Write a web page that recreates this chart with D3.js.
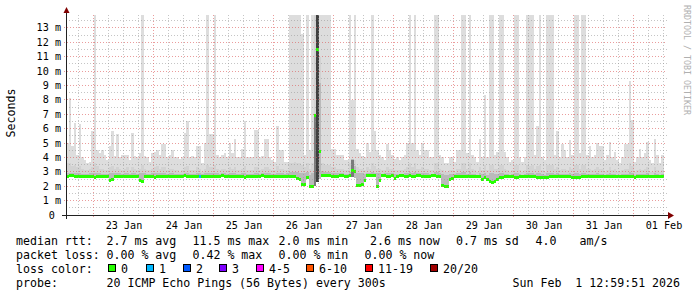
<!DOCTYPE html>
<html>
<head>
<meta charset="utf-8">
<script src="https://cdn.jsdelivr.net/npm/d3@7"></script>
<style>
  body { margin: 0; background: #fff; }
  text { font-family: "DejaVu Sans Mono", monospace; white-space: pre; }
</style>
</head>
<body>
<svg id="chart" width="697" height="297"></svg>
<script>
// hourly values (ms), first hour starts at Jan 22 12:59:51 UTC
const maxRtt = [
  5.0,8.1,4.8,6.4,4.2,6.3,4.0,3.8,3.6,3.7,
  5.8,14,4.5,4.3,4.5,4.2,3.8,4.8,5.8,4.1,
  5.6,4.0,4.2,4.2,4.2,3.8,5.7,4.1,4.0,4.3,
  14,4.1,4.0,3.7,4.3,4.4,4.5,4.2,4.9,4.9,
  4.0,4.2,4.5,4.0,4.0,3.9,4.0,5.7,6.5,4.0,
  4.1,4.0,4.8,4.8,3.6,5.0,14,5.6,5.6,14,
  4.2,4.0,4.2,4.3,4.0,5.0,4.3,5.3,4.0,4.0,
  4.6,6.5,4.0,4.0,4.0,5.9,5.9,4.0,4.1,5.3,
  5.3,4.0,3.8,3.7,6.2,4.5,4.5,3.7,3.7,14,
  14,14,14,14,12.6,4.2,14,4.5,14,14,
  14,14,14,14,14,14,4.6,4.6,4.2,4.2,
  4.2,3.8,3.8,14,8.0,14,4.6,4.3,4.1,4.0,
  5.0,4.4,14,5.8,4.5,4.2,4.0,3.8,4.9,4.5,
  4.2,3.9,4.0,3.8,4.0,4.2,5.0,14,5.0,14,
  4.5,4.2,5.0,4.5,4.5,4.0,4.0,14,14,4.2,
  4.0,3.6,3.6,4.0,4.0,3.7,4.5,4.5,14,14,
  4.3,14,4.2,4.0,3.7,5.3,4.0,8.3,4.0,14,
  14,4.2,4.4,14,14,4.4,4.0,3.7,3.8,14,
  14,4.0,3.7,4.0,14,14,14,4.2,6.2,14,
  4.0,3.8,14,14,14,4.2,5.8,4.0,4.9,4.5,
  4.0,5.2,4.2,14,14,4.3,14,14,4.2,4.8,
  4.0,4.2,5.0,4.8,4.8,3.8,4.2,5.1,4.0,4.4,
  3.8,3.6,4.0,4.9,4.9,9.3,6.6,3.7,4.0,4.6,
  4.0,4.3,5.1,3.8,3.6,5.3,4.2,3.6,4.2
];
const upperRtt = [
  3.6,3.6,3.4,3.5,3.3,3.4,3.2,3.1,3.1,3.2,
  3.3,3.6,3.4,3.2,3.2,3.1,3.1,3.3,3.4,3.2,
  3.3,3.2,3.1,3.2,3.3,3.1,3.3,3.2,3.1,3.2,
  3.5,3.2,3.1,3.1,3.2,3.3,3.4,3.2,3.3,3.3,
  3.1,3.2,3.2,3.1,3.1,3.0,3.1,3.3,3.4,3.1,
  3.1,3.1,3.3,3.2,3.0,3.2,3.5,3.3,3.3,3.5,
  3.2,3.1,3.2,3.2,3.1,3.3,3.2,3.3,3.1,3.1,
  3.2,3.4,3.1,3.1,3.1,3.3,3.3,3.1,3.2,3.3,
  3.3,3.2,3.1,3.1,3.4,3.2,3.2,3.1,3.1,3.6,
  3.6,3.7,3.6,3.6,3.5,3.3,3.6,3.2,3.6,14,
  14,11,3.6,3.5,3.5,3.5,3.3,3.3,3.2,3.2,
  3.2,3.1,3.1,3.6,3.9,3.8,3.3,3.2,3.2,3.1,
  3.3,3.2,3.6,3.4,3.2,3.2,3.1,3.1,3.3,3.2,
  3.2,3.1,3.1,3.1,3.1,3.2,3.3,3.6,3.3,3.6,
  3.2,3.2,3.3,3.2,3.2,3.1,3.1,3.6,3.6,3.2,
  3.1,3.0,3.0,3.1,3.1,3.0,3.2,3.2,3.6,3.6,
  3.2,3.6,3.2,3.1,3.0,3.3,3.1,3.5,3.1,3.5,
  3.5,3.2,3.2,3.5,3.5,3.2,3.1,3.0,3.1,3.5,
  3.5,3.1,3.0,3.1,3.5,3.4,3.5,3.2,3.4,3.5,
  3.1,3.0,3.5,3.5,3.5,3.2,3.3,3.1,3.2,3.2,
  3.1,3.3,3.2,3.5,3.5,3.2,3.5,3.5,3.2,3.2,
  3.1,3.2,3.3,3.2,3.2,3.0,3.1,3.3,3.1,3.2,
  3.0,3.0,3.1,3.2,3.2,3.6,3.4,3.0,3.1,3.2,
  3.1,3.2,3.3,3.0,3.0,3.3,3.1,3.0,3.1
];
const coreRtt = [
  2.95,2.95,2.9,2.9,2.9,2.9,2.85,2.85,2.85,2.9,
  2.9,2.95,2.9,2.9,2.85,2.85,2.85,2.9,2.9,2.9,
  2.9,2.9,2.85,2.9,2.9,2.85,2.9,2.9,2.85,2.9,
  2.95,2.9,2.85,2.85,2.9,2.9,2.9,2.9,2.9,2.9,
  2.85,2.9,2.9,2.85,2.85,2.85,2.85,2.9,2.95,2.85,
  2.85,2.85,2.9,2.9,2.85,2.9,2.95,2.9,2.9,2.95,
  2.9,2.85,2.9,2.9,2.85,2.9,2.9,2.9,2.85,2.85,
  2.9,2.95,2.85,2.85,2.85,2.9,2.9,2.85,2.9,2.9,
  2.9,2.9,2.85,2.85,2.95,2.9,2.9,2.85,2.9,3.0,
  3.0,3.0,3.0,2.9,2.9,2.9,3.0,2.8,2.9,7.0,
  12,9.2,3.05,3.0,3.0,3.0,2.9,2.9,2.9,2.9,
  2.9,2.85,2.85,3.0,3.9,3.4,2.95,2.9,2.9,2.85,
  2.95,2.9,3.0,2.95,2.9,2.9,2.85,2.9,2.95,2.9,
  2.9,2.85,2.85,2.85,2.85,2.9,2.9,3.0,2.9,3.0,
  2.9,2.9,2.95,2.9,2.9,2.85,2.85,3.0,3.0,2.9,
  2.85,2.8,2.8,2.85,2.85,2.85,2.9,2.9,3.0,3.0,
  2.85,3.0,2.85,2.85,2.8,2.9,2.85,2.95,2.8,2.95,
  2.95,2.85,2.85,2.95,2.95,2.85,2.85,2.8,2.85,2.95,
  2.95,2.85,2.8,2.85,2.95,2.9,2.95,2.85,2.9,2.95,
  2.85,2.8,2.95,2.95,2.95,2.85,2.9,2.85,2.85,2.85,
  2.85,2.9,2.85,2.95,2.95,2.85,2.95,2.95,2.85,2.85,
  2.85,2.85,2.9,2.85,2.85,2.8,2.85,2.9,2.85,2.85,
  2.8,2.8,2.85,2.85,2.85,3.0,2.9,2.8,2.85,2.85,
  2.85,2.85,2.9,2.8,2.8,2.9,2.85,2.8,2.85
];
const minRtt = [
  2.62,2.64,2.64,2.62,2.62,2.62,2.62,2.6,2.62,2.62,
  2.6,2.55,2.62,2.62,2.62,2.62,2.58,2.35,2.45,2.58,
  2.62,2.62,2.62,2.62,2.62,2.6,2.6,2.62,2.58,2.35,
  2.3,2.58,2.62,2.62,2.6,2.55,2.62,2.62,2.62,2.62,
  2.62,2.62,2.6,2.62,2.62,2.58,2.62,2.64,2.62,2.62,
  2.62,2.62,2.6,2.62,2.62,2.62,2.58,2.62,2.62,2.62,
  2.62,2.62,2.64,2.62,2.62,2.62,2.62,2.6,2.62,2.62,
  2.58,2.52,2.58,2.62,2.62,2.62,2.62,2.62,2.64,2.62,
  2.62,2.62,2.62,2.6,2.62,2.62,2.62,2.62,2.62,2.6,
  2.62,2.58,2.48,2.38,2.03,2.03,2.52,1.93,1.93,1.98,
  2.3,2.5,2.67,2.67,2.67,2.64,2.62,2.62,2.62,2.64,
  2.64,2.62,2.62,2.64,2.62,2.6,2.0,2.0,2.02,2.32,
  2.67,2.67,2.67,2.67,1.93,2.32,2.67,2.67,2.62,2.62,
  2.67,2.47,2.62,2.64,2.64,2.62,2.62,2.64,2.62,2.62,
  2.64,2.64,2.62,2.62,2.57,2.62,2.64,2.64,2.62,2.62,
  1.97,1.93,1.93,2.42,2.47,2.57,2.62,2.6,2.6,2.62,
  2.62,2.6,2.6,2.6,2.57,2.57,2.37,2.52,2.37,2.22,
  2.17,2.27,2.37,2.52,2.54,2.57,2.57,2.57,2.57,2.5,
  2.52,2.57,2.57,2.57,2.57,2.57,2.57,2.57,2.52,2.52,
  2.52,2.54,2.52,2.57,2.57,2.57,2.57,2.57,2.57,2.57,
  2.57,2.57,2.54,2.52,2.52,2.54,2.62,2.62,2.62,2.57,
  2.57,2.57,2.57,2.57,2.57,2.57,2.57,2.57,2.57,2.6,
  2.6,2.57,2.57,2.57,2.57,2.57,2.57,2.54,2.57,2.57,
  2.57,2.57,2.57,2.57,2.57,2.57,2.57,2.57,2.57
];
const medianRtt = [
  2.7,2.72,2.72,2.7,2.7,2.7,2.7,2.68,2.7,2.7,
  2.68,2.6,2.7,2.7,2.7,2.7,2.65,2.4,2.5,2.65,
  2.7,2.7,2.7,2.7,2.7,2.68,2.68,2.7,2.65,2.4,
  2.35,2.65,2.7,2.7,2.68,2.62,2.7,2.7,2.7,2.7,
  2.7,2.7,2.68,2.7,2.7,2.65,2.7,2.72,2.7,2.7,
  2.7,2.7,2.68,2.7,2.7,2.7,2.65,2.7,2.7,2.7,
  2.7,2.7,2.72,2.7,2.7,2.7,2.7,2.68,2.7,2.7,
  2.65,2.6,2.65,2.7,2.7,2.7,2.7,2.7,2.72,2.7,
  2.7,2.7,2.7,2.68,2.7,2.7,2.7,2.7,2.7,2.68,
  2.7,2.65,2.55,2.45,2.1,2.1,2.6,2.0,2.0,6.9,
  11.5,4.4,2.75,2.75,2.75,2.72,2.7,2.7,2.7,2.72,
  2.72,2.7,2.7,2.72,3.1,3.05,2.08,2.08,2.1,2.4,
  2.75,2.75,2.75,2.75,2.0,2.4,2.75,2.75,2.7,2.7,
  2.75,2.55,2.7,2.72,2.72,2.7,2.7,2.72,2.7,2.7,
  2.72,2.72,2.7,2.7,2.65,2.7,2.72,2.72,2.7,2.7,
  2.02,2.0,2.0,2.5,2.55,2.65,2.7,2.68,2.68,2.7,
  2.7,2.68,2.68,2.68,2.65,2.65,2.45,2.6,2.45,2.3,
  2.25,2.35,2.45,2.6,2.62,2.65,2.65,2.65,2.65,2.58,
  2.6,2.65,2.65,2.65,2.65,2.65,2.65,2.65,2.6,2.6,
  2.6,2.62,2.6,2.65,2.65,2.65,2.65,2.65,2.65,2.65,
  2.65,2.65,2.62,2.6,2.6,2.62,2.7,2.7,2.7,2.65,
  2.65,2.65,2.65,2.65,2.65,2.65,2.65,2.65,2.65,2.68,
  2.68,2.65,2.65,2.65,2.65,2.65,2.65,2.62,2.65,2.65,
  2.65,2.65,2.65,2.65,2.65,2.65,2.65,2.65,2.65
];
// hours where the innermost smoke pairs spread out (dark core)
const innerHours = [99, 100, 114];
const innerTop = [7.0, 14, 3.8];
// hours with packet loss (index into lossColors)
const lossHours = [53];
const lossLevel = [1];

const yTicks = [0,1,2,3,4,5,6,7,8,9,10,11,12,13];
const yLabels = ["0 ","1 m","2 m","3 m","4 m","5 m","6 m","7 m","8 m","9 m","10 m","11 m","12 m","13 m"];
const dayLabels = ["23 Jan","24 Jan","25 Jan","26 Jan","27 Jan","28 Jan","29 Jan","30 Jan","31 Jan","01 Feb"];
const lossNames = ["0","1","2","3","4-5","6-10","11-19","20/20"];
const lossColors = ["#26ff00","#00b8ff","#0059ff","#7e00ff","#ff00ff","#ff5500","#ff0000","#a00000"];
const lossBoxX = [108, 146, 183, 219, 256, 306, 365, 430];

const legendRows = [
  [[16,"median rtt:"],[106.5,"2.7 ms avg"],[192.5,"11.5 ms max"],[278.5,"2.0 ms min"],[370,"2.6 ms now"],[456,"0.7 ms sd"],[535.5,"4.0"],[579.5,"am/s"]],
  [[16,"packet loss:"],[106.5,"0.00 % avg"],[192.5,"0.42 % max"],[278.5,"0.00 % min"],[364.5,"0.00 % now"]],
  [[16,"loss color:"]],
  [[16,"probe:"],[106.5,"20 ICMP Echo Pings (56 Bytes) every 300s"],[512.5,"Sun Feb  1 12:59:51 2026"]]
];

const svg = d3.select("#chart");
const end = new Date(Date.UTC(2026, 1, 1, 12, 59, 51));
const start = new Date(+end - 10 * 864e5);
const hour = i => new Date(+start + i * 36e5);

const x = d3.scaleUtc().domain([start, end]).range([66, 666]);
const y = d3.scaleLinear().domain([0, 13.89]).range([215, 15]);

svg.append("rect").attr("width", 697).attr("height", 297).attr("fill", "#fff");

svg.append("clipPath").attr("id", "clip")
  .append("rect").attr("x", 66).attr("y", 15).attr("width", 600).attr("height", 200);

const plot = svg.append("g").attr("clip-path", "url(#clip)");

function smoke(top, color) {
  plot.append("g").attr("shape-rendering", "crispEdges")
    .selectAll("rect").data(top).join("rect")
    .attr("x", (d, i) => x(hour(i)))
    .attr("width", (d, i) => x(hour(i + 1)) - x(hour(i)))
    .attr("y", d => y(d))
    .attr("height", (d, i) => Math.max(0, y(minRtt[i]) - y(d)))
    .attr("fill", color);
}
smoke(maxRtt, "#dddddd");
smoke(upperRtt, "#d2d2d2");
smoke(coreRtt, "#bababa");

plot.append("g").attr("shape-rendering", "crispEdges")
  .selectAll("rect").data(innerHours).join("rect")
  .attr("x", h => x(hour(h)))
  .attr("width", h => x(hour(h + 1)) - x(hour(h)))
  .attr("y", (h, k) => y(innerTop[k]))
  .attr("height", (h, k) => y(minRtt[h]) - y(innerTop[k]))
  .attr("fill", (h, k) => k === 1 ? "#404040" : "#7a7a7a");

// grid
const grid = svg.append("g").attr("shape-rendering", "crispEdges");
const majorT = d3.utcDay.range(start, end);
const minorT = d3.utcHour.every(6).range(start, end).filter(d => d.getUTCHours() !== 0);
const minorY = y.ticks(28).filter(v => v > 0 && v % 1 !== 0);
const majorY = yTicks.filter(v => v > 0);
const minorCol = "rgba(150,150,150,0.55)", majorCol = "rgba(220,90,90,0.6)";

grid.selectAll(".vmin").data(minorT).join("line")
  .attr("x1", d => Math.floor(x(d)) + 0.5).attr("x2", d => Math.floor(x(d)) + 0.5)
  .attr("y1", 15).attr("y2", 215).attr("stroke", minorCol).attr("stroke-dasharray", "1,2");
grid.selectAll(".hmin").data(minorY).join("line")
  .attr("x1", 66).attr("x2", 667)
  .attr("y1", d => Math.floor(y(d)) + 0.5).attr("y2", d => Math.floor(y(d)) + 0.5)
  .attr("stroke", minorCol).attr("stroke-dasharray", "1,2");
grid.selectAll(".vmaj").data(majorT).join("line")
  .attr("x1", d => Math.floor(x(d)) + 0.5).attr("x2", d => Math.floor(x(d)) + 0.5)
  .attr("y1", 15).attr("y2", 218).attr("stroke", majorCol).attr("stroke-dasharray", "1,2");
grid.selectAll(".hmaj").data(majorY).join("line")
  .attr("x1", 64).attr("x2", 667)
  .attr("y1", d => Math.floor(y(d)) + 0.5).attr("y2", d => Math.floor(y(d)) + 0.5)
  .attr("stroke", majorCol).attr("stroke-dasharray", "1,2");

// median, coloured by loss
const lossAt = i => { const k = lossHours.indexOf(i); return k < 0 ? 0 : lossLevel[k]; };
plot.append("g").attr("shape-rendering", "crispEdges")
  .selectAll("rect").data(medianRtt).join("rect")
  .attr("x", (d, i) => x(hour(i)))
  .attr("width", (d, i) => x(hour(i + 1)) - x(hour(i)))
  .attr("y", d => y(d) - 1.5)
  .attr("height", 3)
  .attr("fill", (d, i) => lossColors[lossAt(i)]);

// axes
const axis = svg.append("g").attr("shape-rendering", "crispEdges");
axis.append("line").attr("x1", 62).attr("x2", 669).attr("y1", 215.5).attr("y2", 215.5).attr("stroke", "#212121");
axis.append("line").attr("x1", 66.5).attr("x2", 66.5).attr("y1", 219).attr("y2", 12).attr("stroke", "#212121");
svg.append("path").attr("d", "M668,212L674,215.5L668,219Z").attr("fill", "#800000");
svg.append("path").attr("d", "M63.5,13L66.5,7L69.5,13Z").attr("fill", "#800000");

const noon = majorT.map(d => d3.utcHour.offset(d, 12));
svg.append("g").attr("transform", "translate(0,215)")
  .call(d3.axisBottom(x).tickValues(noon).tickFormat((d, i) => dayLabels[i]).tickSize(0).tickPadding(6.3))
  .call(g => g.select(".domain").remove())
  .selectAll("text").attr("font-family", "DejaVu Sans Mono").attr("font-size", 10.15).attr("fill", "#000");

svg.append("g").selectAll("text").data(yTicks).join("text")
  .attr("x", 61).attr("y", d => y(d)).attr("dy", "0.36em")
  .attr("text-anchor", "end").attr("font-size", 10.15).attr("fill", "#000")
  .text((d, i) => yLabels[i]);

svg.append("text").attr("transform", "translate(14.5,113) rotate(-90)")
  .attr("text-anchor", "middle").attr("font-size", 11.6).attr("fill", "#000").text("Seconds");

svg.append("text").attr("transform", "translate(684,5) rotate(90)")
  .attr("font-size", 8.3).attr("fill", "#b0b0b0").text("RRDTOOL / TOBI OETIKER");

// legend
const baselines = [245, 258.9, 272.8, 286.7];
legendRows.forEach((row, r) => {
  svg.append("g").selectAll("text").data(row).join("text")
    .attr("x", d => d[0]).attr("y", baselines[r])
    .attr("font-size", 11.6).attr("fill", "#000")
    .text(d => d[1]);
});
const lg = svg.append("g");
lg.selectAll("rect").data(lossNames).join("rect")
  .attr("x", (d, i) => lossBoxX[i] + 0.5).attr("y", 264.5).attr("width", 7).attr("height", 7)
  .attr("fill", (d, i) => lossColors[i]).attr("stroke", "#000").attr("shape-rendering", "crispEdges");
lg.selectAll("text").data(lossNames).join("text")
  .attr("x", (d, i) => lossBoxX[i] + 13).attr("y", baselines[2])
  .attr("font-size", 11.6).attr("fill", "#000").text(d => d);
</script>
</body>
</html>
